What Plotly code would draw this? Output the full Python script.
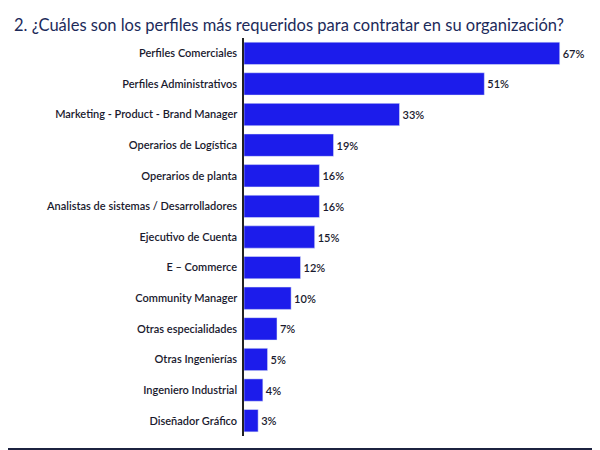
import plotly.graph_objects as go

categories = [
    "Perfiles Comerciales", "Perfiles Administrativos", "Marketing - Product - Brand Manager",
    "Operarios de Logística", "Operarios de planta", "Analistas de sistemas / Desarrolladores",
    "Ejecutivo de Cuenta", "E – Commerce", "Community Manager", "Otras especialidades",
    "Otras Ingenierías", "Ingeniero Industrial", "Diseñador Gráfico",
]
values = [67, 51, 33, 19, 16, 16, 15, 12, 10, 7, 5, 4, 3]
labels = [f"{v}%" for v in values]

fig = go.Figure(go.Bar(
    x=values, y=categories, orientation="h",
    marker_color="#1c1ceb", text=labels, textposition="outside",
    textfont=dict(size=11, color="#1a1a2e", weight=600), cliponaxis=False,
))
fig.update_yaxes(autorange="reversed", showline=True, linecolor="#222",
                 linewidth=2, ticks="", tickfont=dict(size=11, color="#1a1a2e", weight=600),
                 ticksuffix=" ")
fig.update_xaxes(range=[0, 73], visible=False)
fig.add_shape(type="rect", xref="paper", yref="paper", x0=-0.7, x1=1.06,
              y0=-0.08, y1=-0.03, fillcolor="#1c2340", line_width=0)
fig.update_layout(
    width=600, height=450, bargap=0.27,
    paper_bgcolor="white", plot_bgcolor="white",
    font_family="Lato",
    title=dict(text="2. ¿Cuáles son los perfiles más requeridos para contratar en su organización?",
               x=0.01, y=0.975, font=dict(size=16.5, color="#1c2a5a")),
    margin=dict(t=30, b=22, l=236, r=20),
    showlegend=False,
)
fig.write_html("out.html")
